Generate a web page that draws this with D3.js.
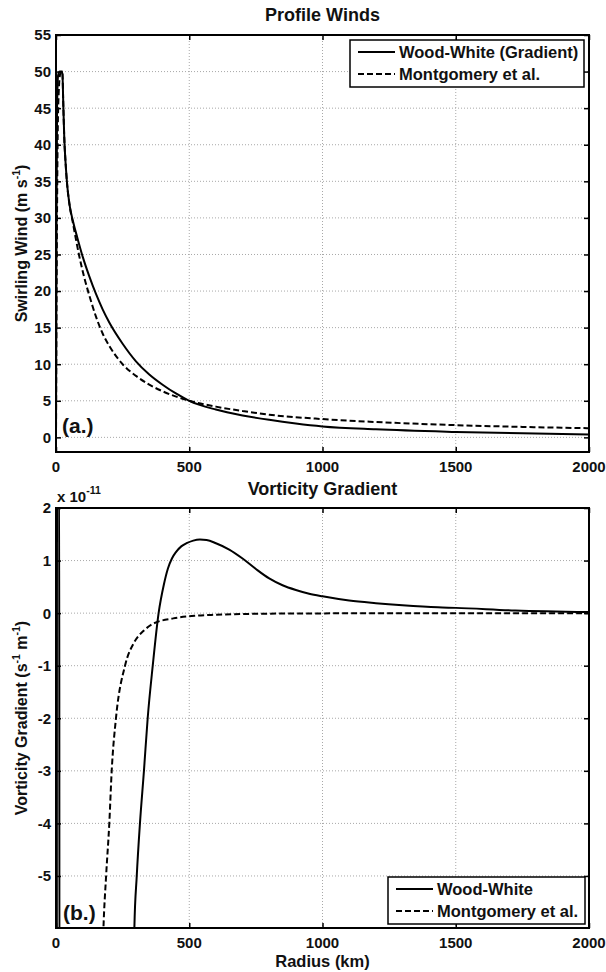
<!DOCTYPE html>
<html>

<head>
  <meta charset="UTF-8" />
  <title>Profile Winds / Vorticity Gradient</title>
  <script src="https://cdnjs.cloudflare.com/ajax/libs/d3/7.8.5/d3.min.js"></script>
</head>
<style>
  body { margin: 0; background: #fff; }
  text { font-family: "Liberation Sans", Arial, sans-serif; font-weight: bold; fill: #111; }
</style>

<body>
  <svg width="606" height="972"></svg>
  <script>
    // ---- data ----
    // (a.) swirling wind, m/s
    var wwWindR = [0, 2, 4, 8, 14, 20, 24, 27, 31, 36, 42, 50, 64, 80, 101, 125, 150, 175, 200, 250, 300, 350, 400, 450, 500, 600, 700, 800, 900, 1000, 1200, 1500, 1750, 2000];
    var wwWind = [0, 30, 45, 49.5, 50, 50, 50, 46, 41, 37.5, 34.5, 32, 29.5, 27.3, 24.6, 22, 19.6, 17.5, 15.7, 12.8, 10.4, 8.6, 7.2, 6, 5, 3.8, 3, 2.4, 1.9, 1.5, 1.1, 0.75, 0.55, 0.4];
    var mgWindR = [0, 3, 6, 10, 16, 24, 27, 31, 36, 42, 50, 64, 86, 105, 125, 150, 175, 200, 250, 300, 350, 400, 500, 600, 700, 800, 1000, 1200, 1500, 1750, 2000];
    var mgWind = [0, 25, 40, 47, 49.7, 50, 46, 41, 37.5, 34.5, 32, 29.2, 25, 22, 19.4, 16.5, 14.2, 12.5, 10, 8.4, 7.2, 6.3, 5, 4.2, 3.6, 3.1, 2.5, 2.1, 1.67, 1.43, 1.25];

    // (b.) vorticity gradient, units of 1e-11 s^-1 m^-1
    var wwVortR = [3, 4, 12, 13, 288, 294, 303, 315, 330, 344, 363, 385, 405, 420, 435, 450, 470, 490, 515, 540, 565, 600, 650, 700, 750, 800, 850, 900, 950, 1000, 1100, 1200, 1300, 1433, 1500, 1723, 2000];
    var wwVort = [-8, 3, 3, -8, -8, -6, -5, -4, -3, -2, -1, 0, 0.55, 0.85, 1.04, 1.16, 1.27, 1.33, 1.38, 1.4, 1.39, 1.33, 1.21, 1.04, 0.84, 0.66, 0.53, 0.44, 0.37, 0.32, 0.24, 0.19, 0.15, 0.11, 0.1, 0.05, 0.02];
    var mgVortR = [170, 178, 188, 200, 209, 225, 259, 294, 330, 365, 440, 520, 600, 800, 1000, 1500, 2000];
    var mgVort = [-7.5, -6, -5, -4, -3, -2, -1, -0.55, -0.33, -0.2, -0.1, -0.05, -0.03, -0.01, -0.005, 0, 0];

    var xTicks = [0, 500, 1000, 1500, 2000];
    var windTicks = [0, 5, 10, 15, 20, 25, 30, 35, 40, 45, 50, 55];
    var vortTicks = [-5, -4, -3, -2, -1, 0, 1, 2];

    var svg = d3.select("svg");
    var left = 56, right = 589;

    function zip(xs, ys) {
      return xs.map(function (r, i) { return [r, ys[i]]; });
    }

    // draws one framed panel, returns its scales and a group clipped to the frame
    function panel(id, top, bottom, yDomain, yTicks) {
      var x = d3.scaleLinear().domain([0, 2000]).range([left, right]);
      var y = d3.scaleLinear().domain(yDomain).range([bottom, top]);
      var g = svg.append("g");

      svg.append("clipPath").attr("id", id)
        .append("rect")
        .attr("x", left).attr("y", top)
        .attr("width", right - left).attr("height", bottom - top);

      //网格
      g.append("g").selectAll("line").data(xTicks.slice(1, -1)).enter()
        .append("line")
        .attr("x1", x).attr("x2", x)
        .attr("y1", top).attr("y2", bottom)
        .attr("stroke", "#a8a8a8").attr("stroke-dasharray", "1,2");
      g.append("g").selectAll("line").data(yTicks).enter()
        .append("line")
        .attr("x1", left).attr("x2", right)
        .attr("y1", y).attr("y2", y)
        .attr("stroke", "#a8a8a8").attr("stroke-dasharray", "1,2");

      var plot = g.append("g").attr("clip-path", "url(#" + id + ")");

      // inward ticks on all four sides, like matlab's box
      var tl = 5;
      g.append("g").call(d3.axisBottom(x).tickValues(xTicks).tickSize(tl).tickFormat(""))
        .attr("transform", "translate(0," + (bottom - tl) + ")");
      g.append("g").call(d3.axisTop(x).tickValues(xTicks).tickSize(tl).tickFormat(""))
        .attr("transform", "translate(0," + (top + tl) + ")");
      g.append("g").call(d3.axisLeft(y).tickValues(yTicks).tickSize(tl).tickFormat(""))
        .attr("transform", "translate(" + (left + tl) + ",0)");
      g.append("g").call(d3.axisRight(y).tickValues(yTicks).tickSize(tl).tickFormat(""))
        .attr("transform", "translate(" + (right - tl) + ",0)");
      g.selectAll(".domain").remove();
      g.selectAll(".tick line").attr("stroke", "#000").attr("stroke-width", 1.5);

      //边框
      g.append("rect")
        .attr("x", left).attr("y", top)
        .attr("width", right - left).attr("height", bottom - top)
        .attr("fill", "none").attr("stroke", "#000").attr("stroke-width", 2);

      //刻度文字
      g.append("g").selectAll("text").data(xTicks).enter()
        .append("text")
        .attr("x", x).attr("y", bottom + 20)
        .attr("text-anchor", "middle")
        .attr("font-size", 15)
        .text(function (d) { return d; });
      g.append("g").selectAll("text").data(yTicks).enter()
        .append("text")
        .attr("x", left - 5).attr("y", y)
        .attr("dy", "0.36em")
        .attr("text-anchor", "end")
        .attr("font-size", 15)
        .text(function (d) { return d; });

      return { x: x, y: y, plot: plot };
    }

    function drawLine(p, pts, dashed) {
      var line = d3.line()
        .x(function (d) { return p.x(d[0]); })
        .y(function (d) { return p.y(d[1]); })
        .curve(d3.curveMonotoneX);
      p.plot.append("path")
        .attr("d", line(pts))
        .attr("fill", "none")
        .attr("stroke", "#000")
        .attr("stroke-width", 2)
        .attr("stroke-dasharray", dashed ? "6,3" : null);
    }

    function legend(x0, y0, w, labels) {
      var lg = svg.append("g");
      lg.append("rect")
        .attr("x", x0).attr("y", y0)
        .attr("width", w).attr("height", 47)
        .attr("fill", "#fff").attr("stroke", "#000").attr("stroke-width", 1.5);
      labels.forEach(function (t, i) {
        var yy = y0 + 12 + i * 22;
        lg.append("line")
          .attr("x1", x0 + 8).attr("x2", x0 + 45)
          .attr("y1", yy).attr("y2", yy)
          .attr("stroke", "#000").attr("stroke-width", 2)
          .attr("stroke-dasharray", i ? "6,3" : null);
        lg.append("text")
          .attr("x", x0 + 49).attr("y", yy)
          .attr("dy", "0.36em")
          .attr("font-size", 16.5)
          .text(t);
      });
    }

    // ---- (a.) profile winds ----
    var pa = panel("clipA", 35, 452, [-2, 55], windTicks);
    drawLine(pa, zip(wwWindR, wwWind), false);
    drawLine(pa, zip(mgWindR, mgWind), true);

    svg.append("text")
      .attr("x", (left + right) / 2).attr("y", 21)
      .attr("text-anchor", "middle").attr("font-size", 18)
      .text("Profile Winds");
    svg.append("text")
      .attr("x", 62).attr("y", 433)
      .attr("font-size", 21)
      .text("(a.)");
    svg.append("text")
      .attr("transform", "translate(27," + (35 + 452) / 2 + ") rotate(-90)")
      .attr("text-anchor", "middle").attr("font-size", 16)
      .call(function (t) {
        t.append("tspan").text("Swirling Wind (m s");
        t.append("tspan").attr("font-size", 10.5).attr("dy", -7).text("-1");
        t.append("tspan").attr("dy", 7).text(")");
      });
    legend(350, 40, 234, ["Wood-White (Gradient)", "Montgomery et al."]);

    // ---- (b.) vorticity gradient ----
    var pb = panel("clipB", 508, 928, [-5.99, 2], vortTicks);
    drawLine(pb, zip(wwVortR, wwVort), false);
    drawLine(pb, zip(mgVortR, mgVort), true);

    svg.append("text")
      .attr("x", (left + right) / 2).attr("y", 495)
      .attr("text-anchor", "middle").attr("font-size", 18)
      .text("Vorticity Gradient");
    svg.append("text")
      .attr("x", 57).attr("y", 502)
      .attr("font-size", 15)
      .call(function (t) {
        t.append("tspan").text("x 10");
        t.append("tspan").attr("font-size", 10.5).attr("dy", -8).text("-11");
      });
    svg.append("text")
      .attr("x", 63).attr("y", 920)
      .attr("font-size", 21)
      .text("(b.)");
    svg.append("text")
      .attr("transform", "translate(27," + (508 + 928) / 2 + ") rotate(-90)")
      .attr("text-anchor", "middle").attr("font-size", 16)
      .call(function (t) {
        t.append("tspan").text("Vorticity Gradient (s");
        t.append("tspan").attr("font-size", 10.5).attr("dy", -7).text("-1");
        t.append("tspan").attr("dy", 7).text(" m");
        t.append("tspan").attr("font-size", 10.5).attr("dy", -7).text("-1");
        t.append("tspan").attr("dy", 7).text(")");
      });
    svg.append("text")
      .attr("x", (left + right) / 2).attr("y", 967)
      .attr("text-anchor", "middle").attr("font-size", 16.5)
      .text("Radius (km)");
    legend(388, 877, 197, ["Wood-White", "Montgomery et al."]);
  </script>
</body>

</html>
